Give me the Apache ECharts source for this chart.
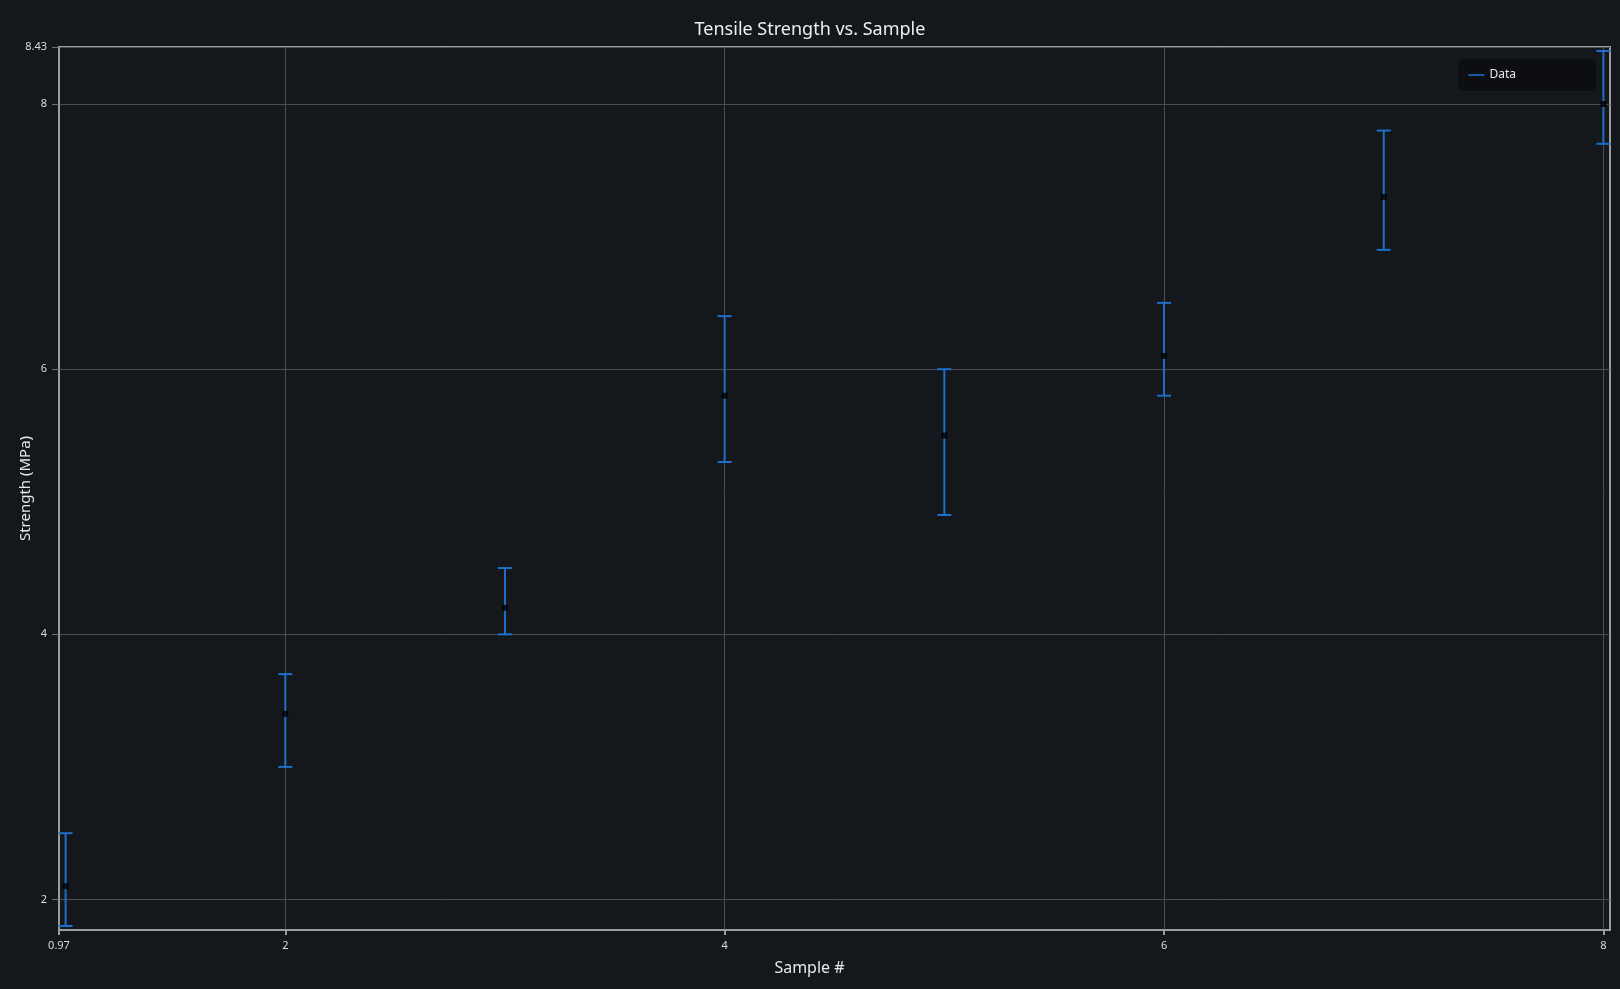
<!DOCTYPE html>
<html>
<head>
<meta charset="utf-8">
<title>Tensile Strength vs. Sample</title>
<script src="https://cdn.jsdelivr.net/npm/echarts@6/dist/echarts.min.js"></script>
<style>
    html, body { margin: 0; padding: 0; background: #14171c; }
    #chart { width: 1620px; height: 989px; }
</style>
</head>
<body>
<div id="chart"></div>
<script>
// 数据
var samples = [1, 2, 3, 4, 5, 6, 7, 8];
var strength = [2.1, 3.4, 4.2, 5.8, 5.5, 6.1, 7.3, 8.0];
var lowerVals = [1.8, 3.0, 4.0, 5.3, 4.9, 5.8, 6.9, 7.7];
var upperVals = [2.5, 3.7, 4.5, 6.4, 6.0, 6.5, 7.8, 8.4];
var xTicks = [0.97, 2, 4, 6, 8];
var yTicks = [2, 4, 6, 8, 8.43];

var barData = samples.map(function (s, i) {
    return [s, lowerVals[i], upperVals[i]];
});
var pointData = samples.map(function (s, i) {
    return [s, strength[i]];
});

var textColor = '#d8dadd';
var fontFamily = '"Noto Sans", "Open Sans", sans-serif';

var myChart = echarts.init(document.getElementById('chart'), null, { renderer: 'canvas' });

var option = {
    backgroundColor: '#14171c',
    animation: false,
    title: {
        text: 'Tensile Strength vs. Sample',
        left: 'center',
        top: 16,
        textStyle: { color: '#eceef0', fontSize: 18, fontWeight: 'normal', fontFamily: fontFamily }
    },
    legend: {
        data: [{ name: 'Data', icon: 'path://M0,0 L10,0 L10,1 L0,1 Z' }],
        right: 24,
        top: 59,
        padding: [10, 80, 10, 10],
        itemWidth: 16,
        itemHeight: 2,
        itemGap: 6,
        backgroundColor: '#0c0e11',
        borderRadius: 5,
        textStyle: { color: '#e6e8ea', fontSize: 12, fontFamily: fontFamily }
    },
    grid: {
        left: 59,
        right: 10,
        top: 47,
        bottom: 59,
        outerBoundsMode: 'none',
        containLabel: false,
        show: true,
        borderColor: '#9a9ca0',
        borderWidth: 2,
        backgroundColor: 'transparent'
    },
    xAxis: {
        type: 'value',
        min: 0.97,
        max: 8.03,
        name: 'Sample #',
        nameLocation: 'middle',
        nameGap: 30,
        nameMoveOverlap: false,
        nameTextStyle: { color: '#e6e8ea', fontSize: 16, fontFamily: fontFamily, padding: [0, 50, 0, 0] },
        axisLine: { show: true, lineStyle: { color: '#9a9ca0', width: 2 } },
        axisTick: { show: true, length: 5, customValues: xTicks, lineStyle: { color: '#9a9ca0', width: 2 } },
        axisLabel: {
            customValues: xTicks,
            color: textColor,
            fontSize: 11,
            margin: 10,
            fontFamily: fontFamily
        },
        splitLine: { show: true, lineStyle: { color: '#4a4d52', width: 1 } }
    },
    yAxis: {
        type: 'value',
        min: 1.77,
        max: 8.43,
        name: 'Strength (MPa)',
        nameLocation: 'middle',
        nameGap: 26,
        nameMoveOverlap: false,
        nameTextStyle: { color: '#e6e8ea', fontSize: 15, fontFamily: fontFamily },
        axisLine: { show: true, lineStyle: { color: '#9a9ca0', width: 2 } },
        axisTick: { show: true, length: 7, customValues: yTicks, lineStyle: { color: '#6a6d72', width: 1 } },
        axisLabel: {
            customValues: yTicks,
            color: textColor,
            fontSize: 11,
            margin: 12,
            fontFamily: fontFamily
        },
        splitLine: { show: true, lineStyle: { color: '#4a4d52', width: 1 } }
    },
    series: [{
        name: 'Data',
        type: 'custom',
        color: '#1f6fc8',
        data: barData,
        clip: false,
        renderItem: function (params, api) {
            var x = api.value(0);
            var lo = api.coord([x, api.value(1)]);
            var hi = api.coord([x, api.value(2)]);
            var half = 7;
            var style = { stroke: '#1f6fc8', lineWidth: 2 };
            return {
                type: 'group',
                children: [
                    { type: 'line', shape: { x1: lo[0], y1: lo[1], x2: hi[0], y2: hi[1] }, style: style },
                    { type: 'line', shape: { x1: lo[0] - half, y1: lo[1], x2: lo[0] + half, y2: lo[1] }, style: style },
                    { type: 'line', shape: { x1: hi[0] - half, y1: hi[1], x2: hi[0] + half, y2: hi[1] }, style: style }
                ]
            };
        },
        z: 3
    }, {
        name: 'points',
        type: 'scatter',
        data: pointData,
        symbol: 'rect',
        symbolSize: 6,
        itemStyle: { color: '#000000' },
        z: 4
    }]
};

myChart.setOption(option);
window.addEventListener('resize', function () {
    myChart.resize();
});
</script>
</body>
</html>
